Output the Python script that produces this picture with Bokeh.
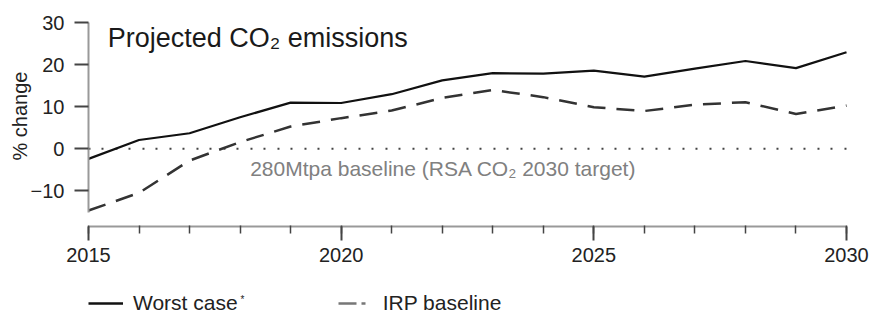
import math
from bokeh.plotting import figure
from bokeh.models import (Range1d, Label, Legend, LegendItem, FixedTicker,
                          SingleIntervalTicker)
from bokeh.embed import file_html
from bokeh.resources import INLINE

# ---- data ----
years = list(range(2015, 2031))
worst_case = [-2.4, 2.1, 3.7, 7.5, 11.0, 10.9, 13.0, 16.3, 18.0, 17.9,
              18.6, 17.2, 19.1, 20.9, 19.2, 23.0]
irp_baseline = [-14.7, -10.5, -2.8, 1.6, 5.3, 7.3, 9.1, 12.1, 14.0, 12.3,
                9.9, 9.0, 10.5, 11.1, 8.3, 10.3]
y_ticks = [-10, 0, 10, 20, 30]
baseline_value = 0
x_axis_at = -18.5
series_labels = ["Worst case", "IRP baseline"]
title_text = "Projected CO\u2082 emissions"
baseline_text = "280Mtpa baseline (RSA CO\u2082 2030 target)"
y_label = "% change"

FONT = "Liberation Sans"

p = figure(width=869, height=316, output_backend="svg", toolbar_location=None,
           x_range=Range1d(2013.259, 2030.455), y_range=Range1d(-39.93, 35.31),
           min_border_left=0, min_border_right=0, min_border_top=0,
           min_border_bottom=0)
p.outline_line_color = None
p.xgrid.grid_line_color = None
p.ygrid.grid_line_color = None
p.background_fill_color = "white"
p.border_fill_color = "white"

# zero baseline (dotted), spanning the data years
p.line([years[0], years[-1]], [baseline_value, baseline_value],
       line_color="#444444", line_width=2, line_dash="2 11 2 12")

r_w = p.line(years, worst_case, line_color="#111111", line_width=2.2)
r_i = p.line(years, irp_baseline, line_color="#333333", line_width=2.5,
             line_dash="18 11")

# legend-only renderers (not drawn in the plot area)
hidden = [float("nan")] * len(years)
leg_w = p.line(years, hidden, line_color="#111111", line_width=2.5)
leg_i = p.line(years, hidden, line_color="#777777", line_width=2.5,
               line_dash="18 5 4 8")

legend = Legend(items=[LegendItem(label=series_labels[0], renderers=[leg_w]),
                       LegendItem(label=series_labels[1], renderers=[leg_i])],
                orientation="horizontal", location=(88, 1),
                label_text_font=FONT, label_text_font_size="21px",
                label_text_color="#222222", glyph_width=35, glyph_height=20,
                label_height=20, label_standoff=10, spacing=100, padding=0,
                margin=0, border_line_alpha=0, background_fill_alpha=0)
p.add_layout(legend)

# axes (placed inside the frame at fixed positions)
xa = p.xaxis[0]
xa.fixed_location = x_axis_at
xa.bounds = (years[0], years[-1])
xa.ticker = SingleIntervalTicker(interval=5, num_minor_ticks=5)
xa.axis_line_color = "#999999"
xa.axis_line_width = 2
xa.major_tick_line_color = "#444444"
xa.major_tick_line_width = 2
xa.major_tick_out = 14
xa.major_tick_in = 0
xa.minor_tick_line_color = "#444444"
xa.minor_tick_line_width = 1.5
xa.minor_tick_out = 7
xa.minor_tick_in = 1
xa.major_label_text_font = FONT
xa.major_label_text_font_size = "20px"
xa.major_label_text_color = "#222222"
xa.major_label_standoff = 8

ya = p.yaxis[0]
ya.fixed_location = years[0]
ya.ticker = FixedTicker(ticks=y_ticks)
ya.bounds = (-15.2, 30)
ya.axis_line_color = "#999999"
ya.axis_line_width = 2
ya.major_tick_line_color = "#444444"
ya.major_tick_line_width = 2
ya.major_tick_out = 14
ya.major_tick_in = 0
ya.minor_tick_line_color = None
ya.major_label_text_font = FONT
ya.major_label_text_font_size = "20px"
ya.major_label_text_color = "#222222"
ya.major_label_standoff = 10
ya.major_label_overrides = {-10: "\u221210"}

# texts
p.add_layout(Label(x=2013.635, y=7.8, text=y_label, angle=math.pi / 2,
                   text_font=FONT, text_font_size="20px", text_color="#222222",
                   text_align="center", text_baseline="middle"))
p.add_layout(Label(x=2015.38, y=26.5, text=title_text, text_font=FONT,
                   text_font_size="27px", text_color="#1a1a1a",
                   text_baseline="alphabetic"))
p.add_layout(Label(x=2018.2, y=-4.7, text=baseline_text, text_font=FONT,
                   text_font_size="21px", text_color="#808080",
                   text_baseline="alphabetic"))
p.add_layout(Label(x=2018.01, y=-34.69, text="*", text_font=FONT,
                   text_font_size="10px", text_color="#222222",
                   text_baseline="top"))

open("out.html", "w").write(file_html(p, INLINE))
